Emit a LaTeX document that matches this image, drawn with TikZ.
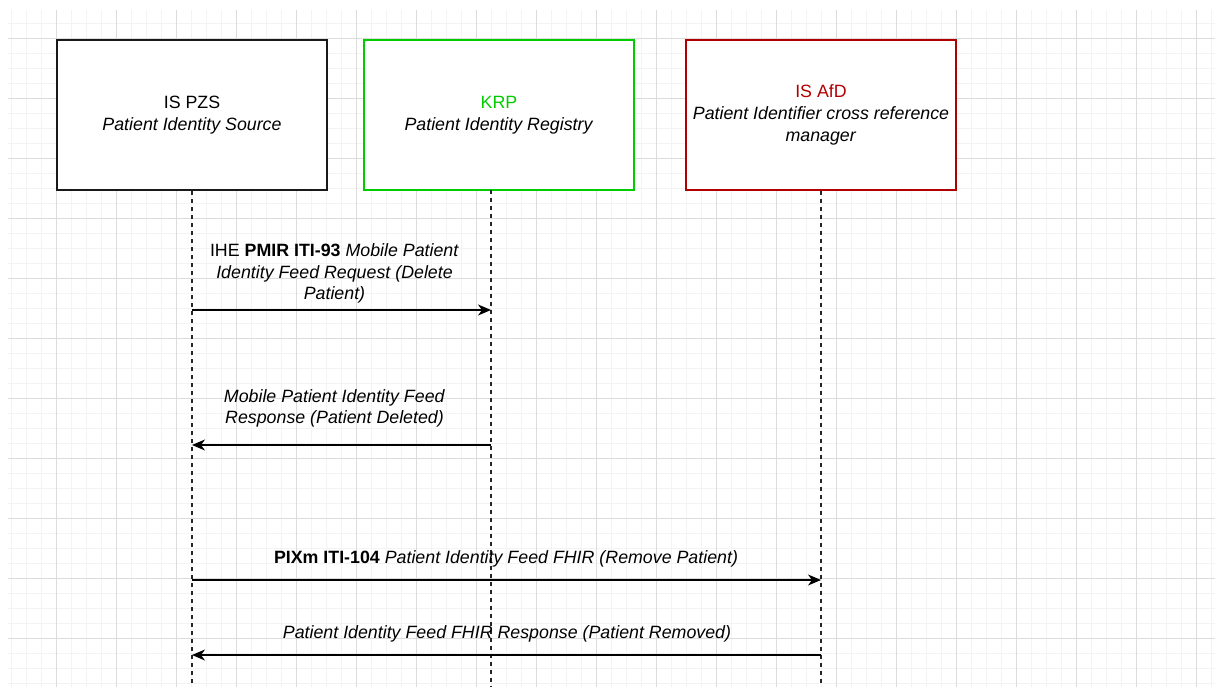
\documentclass[tikz,border=0pt]{standalone}
\usepackage{fontspec}
\setmainfont{Liberation Sans}
\usetikzlibrary{arrows.meta}
\definecolor{gridminor}{HTML}{F3F3F3}
\definecolor{gridmajor}{HTML}{DCDCDC}
\definecolor{krpgreen}{HTML}{00CC00}
\definecolor{afdred}{HTML}{B20000}
\tikzset{
  minorline/.style={gridminor, line width=0.9pt},
  majorline/.style={gridmajor, line width=0.9pt},
  actor/.style={draw, fill=white, line width=1.6pt, minimum width=270pt, minimum height=150pt,
    inner sep=0pt, align=center, font=\fontsize{17.8}{21.6}\selectfont},
  lifeline/.style={dashed, dash pattern=on 4pt off 4pt, line width=1.2pt, black!85},
  msg/.style={line width=1.3pt, -{Stealth[length=13pt,width=11pt,inset=4pt]}},
  msglabel/.style={align=center, inner sep=0pt, font=\fontsize{17.8}{21.6}\selectfont}
}
\begin{document}
\begin{tikzpicture}[x=1pt,y=-1pt]
\useasboundingbox (0,0) rectangle (1215,687);
\fill[white] (0,0) rectangle (1215,687);
% grid
\begin{scope}
\clip (8,10) rectangle (1215,687);
\foreach \i in {0,...,81} \draw[minorline] ({11.7+15*\i},10) -- ({11.7+15*\i},687);
\foreach \i in {0,...,45} \draw[minorline] (8,{8.3+15*\i}) -- (1215,{8.3+15*\i});
\foreach \i in {0,...,20} \draw[majorline] ({56.7+60*\i},10) -- ({56.7+60*\i},687);
\foreach \i in {0,...,11} \draw[majorline] (8,{38.3+60*\i}) -- (1215,{38.3+60*\i});
\end{scope}
% actors
\node[actor, draw=black!90] (pzs) at (192,115) {IS PZS\\\textit{Patient Identity Source}};
\node[actor, draw=krpgreen] (krp) at (499,115) {\textcolor{krpgreen}{KRP}\\\textit{Patient Identity Registry}};
\node[actor, draw=afdred] (afd) at (821,115) {\textcolor{afdred}{IS AfD}\\\textit{Patient Identifier cross reference}\\\textit{manager}};
% lifelines
\coordinate (l1b) at (192,687);
\coordinate (l2t) at (491,190);
\coordinate (l2b) at (491,687);
\coordinate (l3b) at (821,687);
\draw[lifeline] (pzs.south) -- (l1b);
\draw[lifeline] (l2t) -- (l2b);
\draw[lifeline] (afd.south) -- (l3b);
% message endpoints
\coordinate (m1s) at (192,310); \coordinate (m1e) at (491,310);
\coordinate (m2s) at (491,445);   \coordinate (m2e) at (192,445);
\coordinate (m3s) at (192,580); \coordinate (m3e) at (821,580);
\coordinate (m4s) at (821,655);   \coordinate (m4e) at (192,655);
\draw[msg] (m1s) -- (m1e);
\draw[msg] (m2s) -- (m2e);
\draw[msg] (m3s) -- (m3e);
\draw[msg] (m4s) -- (m4e);
% labels
\node[msglabel] (t1) at (334.5,273.5) {IHE \textbf{PMIR ITI-93} \textit{Mobile Patient}\\\textit{Identity Feed Request (Delete}\\\textit{Patient)}};
\node[msglabel] (t2) at (334.5,408.5) {\textit{Mobile Patient Identity Feed}\\\textit{Response (Patient Deleted)}};
\node[msglabel] (t3) at (506,558.5) {\textbf{PIXm ITI-104} \textit{Patient Identity Feed FHIR (Remove Patient)}};
\node[msglabel] (t4) at (507,633.5) {\textit{Patient Identity Feed FHIR Response (Patient Removed)}};
\end{tikzpicture}
\end{document}
